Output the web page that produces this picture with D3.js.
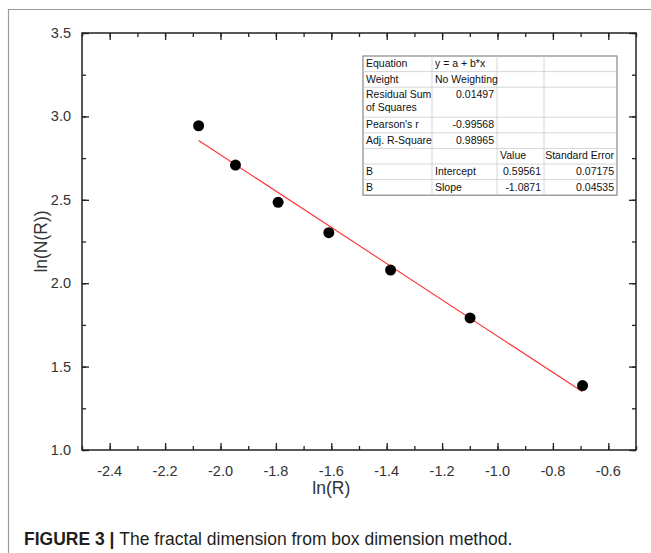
<!DOCTYPE html>
<html>
<head>
<meta charset="utf-8">
<script src="https://cdn.jsdelivr.net/npm/d3@7"></script>
<style>
  body { margin: 0; background: #fff; }
  svg { display: block; font-family: "Liberation Sans", Arial, sans-serif; }
</style>
</head>
<body>
<svg id="chart" width="651" height="553"></svg>
<script>
// données
const lnR = [-2.079, -1.946, -1.792, -1.609, -1.386, -1.099, -0.693];
const lnN = [2.944, 2.708, 2.485, 2.303, 2.079, 1.792, 1.386];
const xTicks = [-2.4, -2.2, -2.0, -1.8, -1.6, -1.4, -1.2, -1.0, -0.8, -0.6];
const yTicks = [1.0, 1.5, 2.0, 2.5, 3.0, 3.5];

// résultats de l'ajustement (tableau)
const intercept = 0.59561;
const slope = -1.0871;
const tableRows = [
  ["Equation", "y = a + b*x", "", ""],
  ["Weight", "No Weighting", "", ""],
  ["Residual Sum\nof Squares", "0.01497", "", ""],
  ["Pearson's r", "-0.99568", "", ""],
  ["Adj. R-Square", "0.98965", "", ""],
  ["", "", "Value", "Standard Error"],
  ["B", "Intercept", "0.59561", "0.07175"],
  ["B", "Slope", "-1.0871", "0.04535"]
];

const svg = d3.select("#chart");
const pLeft = 82, pRight = 636, pTop = 33, pBottom = 450;

const x = d3.scaleLinear().domain([-2.5, -0.5]).range([pLeft, pRight]);
const y = d3.scaleLinear().domain([1.0, 3.5]).range([pBottom, pTop]);

// cadre de la figure
svg.append("path")
  .attr("d", "M8.5,553 L8.5,9.5 L651,9.5")
  .attr("fill", "none").attr("stroke", "#9a9a9a").attr("stroke-width", 1.2);

// axes
const minorX = d3.range(-2.5, -0.49, 0.1).map(v => +v.toFixed(2));
const minorY = d3.range(1.0, 3.51, 0.25).map(v => +v.toFixed(2));

function cleanAxis(g) {
  g.select(".domain").remove();
  g.selectAll("text").remove();
  g.selectAll("line").attr("stroke", "#222").attr("stroke-width", 1.3);
}

svg.append("g").attr("transform", `translate(0,${pBottom})`)
  .call(d3.axisBottom(x).tickValues(minorX).tickSize(-4)).call(cleanAxis);
svg.append("g").attr("transform", `translate(0,${pBottom})`)
  .call(d3.axisBottom(x).tickValues(xTicks).tickSize(-7)).call(cleanAxis);
svg.append("g").attr("transform", `translate(0,${pTop})`)
  .call(d3.axisTop(x).tickValues(minorX).tickSize(-4)).call(cleanAxis);
svg.append("g").attr("transform", `translate(0,${pTop})`)
  .call(d3.axisTop(x).tickValues(xTicks).tickSize(-7)).call(cleanAxis);
svg.append("g").attr("transform", `translate(${pLeft},0)`)
  .call(d3.axisLeft(y).tickValues(minorY).tickSize(-4)).call(cleanAxis);
svg.append("g").attr("transform", `translate(${pLeft},0)`)
  .call(d3.axisLeft(y).tickValues(yTicks).tickSize(-7)).call(cleanAxis);
svg.append("g").attr("transform", `translate(${pRight},0)`)
  .call(d3.axisRight(y).tickValues(minorY).tickSize(-4)).call(cleanAxis);
svg.append("g").attr("transform", `translate(${pRight},0)`)
  .call(d3.axisRight(y).tickValues(yTicks).tickSize(-7)).call(cleanAxis);

svg.append("rect")
  .attr("x", pLeft).attr("y", pTop).attr("width", pRight - pLeft).attr("height", pBottom - pTop)
  .attr("fill", "none").attr("stroke", "#222").attr("stroke-width", 1.5);

// étiquettes des graduations
svg.selectAll(".xlab").data(xTicks).enter().append("text")
  .attr("x", d => x(d)).attr("y", pBottom + 26)
  .attr("text-anchor", "middle").attr("font-size", 14.5).attr("fill", "#333")
  .text(d => d.toFixed(1));
svg.selectAll(".ylab").data(yTicks).enter().append("text")
  .attr("x", pLeft - 11).attr("y", d => y(d) + 5)
  .attr("text-anchor", "end").attr("font-size", 14.5).attr("fill", "#333")
  .text(d => d.toFixed(1));

// titres des axes
svg.append("text").attr("x", x(-1.6)).attr("y", pBottom + 44)
  .attr("text-anchor", "middle").attr("font-size", 17.5).attr("fill", "#333")
  .text("ln(R)");
svg.append("text")
  .attr("transform", `translate(47,${(pTop + pBottom) / 2}) rotate(-90)`)
  .attr("text-anchor", "middle").attr("font-size", 17.5).attr("fill", "#333")
  .text("ln(N(R))");

// droite d'ajustement
const x0 = d3.min(lnR), x1 = d3.max(lnR);
svg.append("line")
  .attr("x1", x(x0)).attr("y1", y(intercept + slope * x0))
  .attr("x2", x(x1)).attr("y2", y(intercept + slope * x1))
  .attr("stroke", "#ff3030").attr("stroke-width", 1.1);

// points
svg.selectAll(".pt").data(lnR).enter().append("circle")
  .attr("cx", d => x(d)).attr("cy", (d, i) => y(lnN[i]))
  .attr("r", 5.5).attr("fill", "#000");

// tableau des paramètres
const colX = [363, 432, 497, 544, 617];
const rowH = tableRows.map(r => r[0].includes("\n") ? 30 : 15.6);
const rowY = [56];
rowH.forEach((h, i) => rowY.push(rowY[i] + h));

const table = svg.append("g").attr("font-size", 10.5).attr("fill", "#111");
table.append("rect")
  .attr("x", colX[0]).attr("y", rowY[0])
  .attr("width", colX[4] - colX[0]).attr("height", rowY[rowY.length - 1] - rowY[0])
  .attr("fill", "#fff").attr("stroke", "#888").attr("stroke-width", 1.2);
rowY.slice(1, -1).forEach(yy => {
  table.append("line").attr("x1", colX[0]).attr("x2", colX[4])
    .attr("y1", yy).attr("y2", yy).attr("stroke", "#ccc").attr("stroke-width", 0.8);
});
colX.slice(1, -1).forEach(xx => {
  table.append("line").attr("x1", xx).attr("x2", xx)
    .attr("y1", rowY[0]).attr("y2", rowY[rowY.length - 1]).attr("stroke", "#ccc").attr("stroke-width", 0.8);
});

tableRows.forEach((row, i) => {
  row.forEach((cell, j) => {
    if (!cell) return;
    const isNum = /^-?\d/.test(cell) || cell === "Standard Error";
    cell.split("\n").forEach((ln, k) => {
      table.append("text")
        .attr("x", isNum ? colX[j + 1] - 3 : colX[j] + 3)
        .attr("y", rowY[i] + 11 + k * 13)
        .attr("text-anchor", isNum ? "end" : "start")
        .text(ln);
    });
  });
});

// légende de la figure
const cap = svg.append("text").attr("x", 24).attr("y", 545)
  .attr("font-size", 17.5).attr("fill", "#231f20");
cap.append("tspan").attr("font-weight", "bold").text("FIGURE 3 | ");
cap.append("tspan").text("The fractal dimension from box dimension method.");
</script>
</body>
</html>
